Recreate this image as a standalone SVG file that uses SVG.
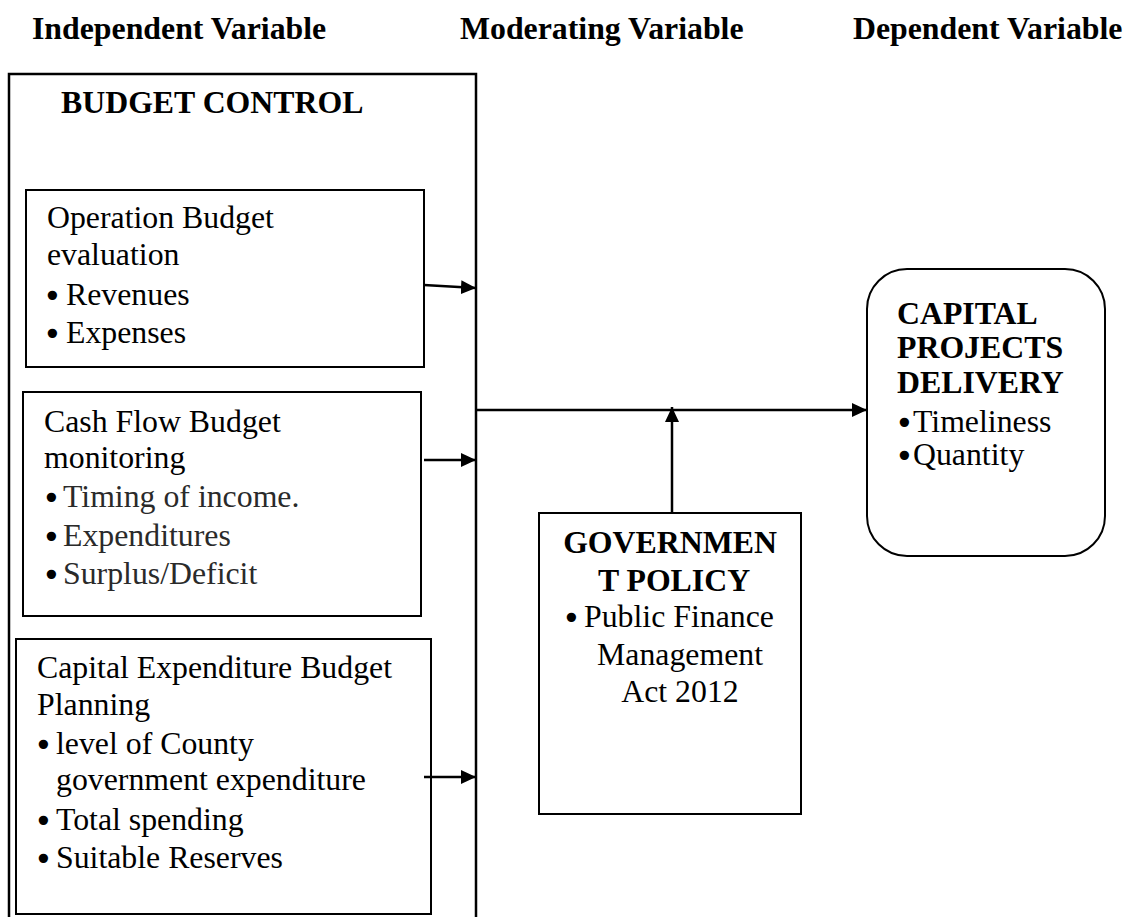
<svg xmlns="http://www.w3.org/2000/svg" width="1138" height="917" viewBox="0 0 1138 917">
  <style>
    .hdr { font-family: "Liberation Serif", "Times New Roman", serif; font-weight: bold; font-size: 31.8px; fill: #000; }
    .t { font-family: "Liberation Serif", "Times New Roman", serif; font-size: 31.8px; fill: #000; }
    .g { fill: #2a2a2a; }
    .b { font-family: "Liberation Serif", "Times New Roman", serif; font-weight: bold; font-size: 31.8px; fill: #000; }
    .dot { font-family: "DejaVu Sans", sans-serif; font-size: 31.8px; fill: #000; }
    .box { fill: #fff; stroke: #000; stroke-width: 2; }
    .conn { fill: none; stroke: #000; stroke-width: 2.5; }
  </style>
  <defs>
    <marker id="arrow" viewBox="0 0 15 14" refX="15" refY="7" markerWidth="15" markerHeight="14" markerUnits="userSpaceOnUse" orient="auto">
      <path d="M0,0 L15,7 L0,14 Z" fill="#000"/>
    </marker>
  </defs>
  <rect width="1138" height="917" fill="#fff"/>

  <!-- column headings -->
  <g id="headings">
    <text class="hdr" x="32" y="39">Independent Variable</text>
    <text class="hdr" x="460" y="39">Moderating Variable</text>
    <text class="hdr" x="853" y="39">Dependent Variable</text>
  </g>

  <!-- independent variable frame -->
  <g id="budget-control">
    <path d="M9,920 V74 H476 V920" fill="none" stroke="#000" stroke-width="2.5"/>
    <text class="b" x="61" y="113">BUDGET CONTROL</text>
  </g>

  <!-- bullet items: bullet glyph, then the item text at its tab stop -->
  <g id="operation-budget">
    <rect class="box" x="26" y="190" width="398" height="177"/>
    <text class="t" x="47" y="228">Operation Budget</text>
    <text class="t" x="47" y="265">evaluation</text>
    <text class="t" y="305"><tspan class="dot" x="43" dy="2">•</tspan><tspan x="66" dy="-2">Revenues</tspan></text>
    <text class="t" y="343"><tspan class="dot" x="43" dy="2">•</tspan><tspan x="66" dy="-2">Expenses</tspan></text>
  </g>

  <g id="cash-flow-budget">
    <rect class="box" x="23" y="392" width="398" height="224"/>
    <text class="t" x="44" y="432">Cash Flow Budget</text>
    <text class="t" x="44" y="468">monitoring</text>
    <text class="t" y="507"><tspan class="dot" x="42" dy="2">•</tspan><tspan class="g" x="63" dy="-2">Timing of income.</tspan></text>
    <text class="t" y="546"><tspan class="dot" x="42" dy="2">•</tspan><tspan class="g" x="63" dy="-2">Expenditures</tspan></text>
    <text class="t" y="584"><tspan class="dot" x="42" dy="2">•</tspan><tspan class="g" x="63" dy="-2">Surplus/Deficit</tspan></text>
  </g>

  <g id="capital-expenditure-budget">
    <rect class="box" x="16" y="639" width="415" height="275"/>
    <text class="t" x="37" y="678">Capital Expenditure Budget</text>
    <text class="t" x="37" y="715">Planning</text>
    <text class="t" y="754"><tspan class="dot" x="34" dy="2">•</tspan><tspan x="56" dy="-2">level of County</tspan></text>
    <text class="t" x="56" y="790">government expenditure</text>
    <text class="t" y="830"><tspan class="dot" x="34" dy="2">•</tspan><tspan x="56" dy="-2">Total spending</tspan></text>
    <text class="t" y="868"><tspan class="dot" x="34" dy="2">•</tspan><tspan x="56" dy="-2">Suitable Reserves</tspan></text>
  </g>

  <!-- moderating variable -->
  <g id="government-policy">
    <rect class="box" x="539" y="513" width="262" height="301"/>
    <text class="b" x="670" y="553" text-anchor="middle">GOVERNMEN</text>
    <text class="b" x="674" y="591" text-anchor="middle">T POLICY</text>
    <text class="t" y="627"><tspan class="dot" x="562" dy="2">•</tspan><tspan x="584" dy="-2">Public Finance</tspan></text>
    <text class="t" x="680" y="665" text-anchor="middle">Management</text>
    <text class="t" x="680" y="702" text-anchor="middle">Act 2012</text>
  </g>

  <!-- dependent variable -->
  <g id="capital-projects-delivery">
    <rect class="box" x="867" y="269" width="238" height="287" rx="40" ry="40"/>
    <text class="b" x="897" y="324">CAPITAL</text>
    <text class="b" x="897" y="358">PROJECTS</text>
    <text class="b" x="897" y="393">DELIVERY</text>
    <text class="t" y="432"><tspan class="dot" x="895" dy="2">•</tspan><tspan x="913" dy="-2">Timeliness</tspan></text>
    <text class="t" y="465"><tspan class="dot" x="895" dy="2">•</tspan><tspan x="913" dy="-2">Quantity</tspan></text>
  </g>

  <!-- connectors -->
  <g id="connectors">
    <line class="conn" x1="424" y1="285" x2="476" y2="288" marker-end="url(#arrow)"/>
    <line class="conn" x1="424" y1="460" x2="476" y2="460" marker-end="url(#arrow)"/>
    <line class="conn" x1="424" y1="777" x2="476" y2="777" marker-end="url(#arrow)"/>
    <line class="conn" x1="476" y1="410" x2="867" y2="410" marker-end="url(#arrow)"/>
    <line class="conn" x1="672" y1="513" x2="672" y2="407" marker-end="url(#arrow)"/>
  </g>
</svg>
